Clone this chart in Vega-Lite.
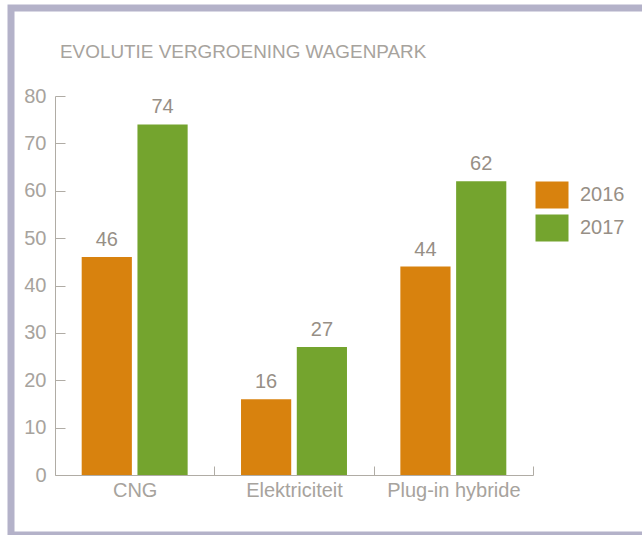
{
  "$schema": "https://vega.github.io/schema/vega-lite/v6.json",
  "width": 640,
  "height": 527,
  "autosize": {"type": "none"},
  "padding": {"left": 11, "top": 8, "right": 0, "bottom": 0},
  "background": "white",
  "view": {"stroke": "#b4b2c9", "strokeWidth": 7, "fill": "white"},
  "title": {
    "text": "EVOLUTIE VERGROENING WAGENPARK",
    "anchor": "start",
    "frame": "group",
    "orient": "top",
    "offset": 0,
    "baseline": "alphabetic",
    "dx": 49,
    "dy": 69,
    "font": "Liberation Sans",
    "fontWeight": "normal",
    "fontSize": 18.9,
    "color": "#a7a39d"
  },
  "data": {
    "values": [
      {"category": "CNG", "year": "2016", "value": 46},
      {"category": "CNG", "year": "2017", "value": 74},
      {"category": "Elektriciteit", "year": "2016", "value": 16},
      {"category": "Elektriciteit", "year": "2017", "value": 27},
      {"category": "Plug-in hybride", "year": "2016", "value": 44},
      {"category": "Plug-in hybride", "year": "2017", "value": 62}
    ]
  },
  "encoding": {
    "x": {
      "field": "category",
      "type": "nominal",
      "sort": ["CNG", "Elektriciteit", "Plug-in hybride"],
      "scale": {"range": [44, 522], "paddingInner": 0.335, "paddingOuter": 0.1675},
      "axis": {
        "title": null,
        "offset": -60,
        "tickSize": -9,
        "tickOffset": 79.67,
        "labelOffset": -79.67,
        "labelAngle": 0,
        "labelPadding": 14,
        "labelFontSize": 20,
        "labelFont": "Liberation Sans",
        "labelColor": "#a7a39d",
        "domainColor": "#b0aca5",
        "tickColor": "#b0aca5",
        "grid": false
      }
    },
    "xOffset": {"field": "year", "type": "nominal", "scale": {"paddingInner": 0.1}},
    "y": {
      "field": "value",
      "type": "quantitative",
      "scale": {"domain": [0, 80], "range": [467, 88], "nice": false},
      "axis": {
        "title": null,
        "offset": -44,
        "values": [0, 10, 20, 30, 40, 50, 60, 70, 80],
        "tickSize": -10,
        "labelPadding": 19,
        "labelFontSize": 20,
        "labelFont": "Liberation Sans",
        "labelColor": "#a7a39d",
        "domainColor": "#b0aca5",
        "tickColor": "#b0aca5",
        "grid": false
      }
    }
  },
  "layer": [
    {
      "mark": {"type": "bar"},
      "encoding": {
        "color": {
          "field": "year",
          "type": "nominal",
          "scale": {"range": ["#d8820e", "#74a42e"]},
          "legend": {
            "title": null,
            "orient": "none",
            "legendX": 526,
            "legendY": 172,
            "symbolType": "M-1.1,-0.9H1.1V0.9H-1.1Z",
            "symbolSize": 900,
            "symbolStrokeWidth": 0,
            "symbolOpacity": 1,
            "labelFontSize": 20,
            "labelFont": "Liberation Sans",
            "labelColor": "#978f86",
            "labelOffset": 13,
            "rowPadding": 4
          }
        }
      }
    },
    {
      "mark": {
        "type": "text",
        "baseline": "alphabetic",
        "dy": -11,
        "fontSize": 20,
        "font": "Liberation Sans",
        "color": "#978f86"
      },
      "encoding": {"text": {"field": "value", "type": "quantitative"}}
    }
  ]
}
